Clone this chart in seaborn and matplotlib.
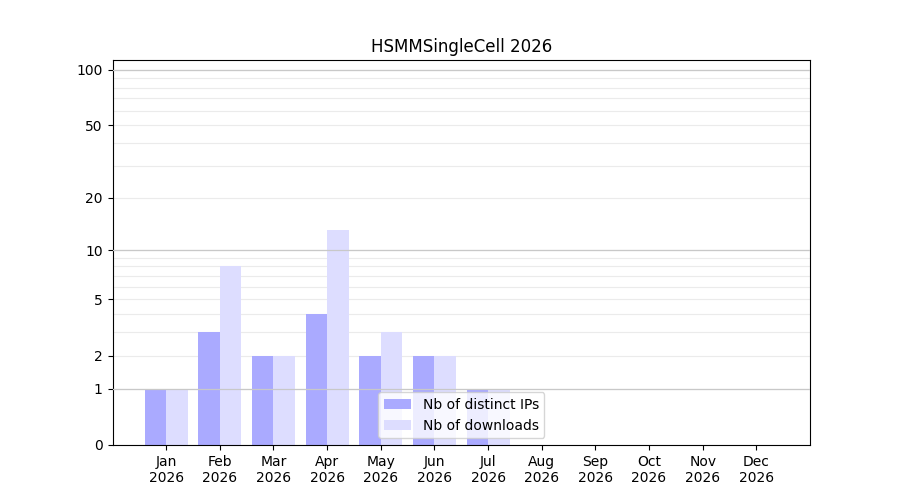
"""
Downloads chart: distinct IPs vs downloads per month, log(1+x) y axis.
"""

import numpy as np
import pandas as pd
import matplotlib
matplotlib.use('Agg')
import matplotlib.pyplot as plt
import seaborn as sns

# Data
months = ['Jan', 'Feb', 'Mar', 'Apr', 'May', 'Jun',
          'Jul', 'Aug', 'Sep', 'Oct', 'Nov', 'Dec']
year = 2026
nb_ips = [1, 3, 2, 4, 2, 2, 1, 0, 0, 0, 0, 0]
nb_downloads = [1, 8, 2, 13, 3, 2, 1, 0, 0, 0, 0, 0]
ytick_values = [0, 1, 2, 5, 10, 20, 50, 100]
minor_values = [3, 4, 6, 7, 8, 9, 30, 40, 60, 70, 80, 90]
strong_grid = [1, 10, 100]

label_ips = 'Nb of distinct IPs'
label_dl = 'Nb of downloads'

df = pd.DataFrame({
    'month': months * 2,
    'value': nb_ips + nb_downloads,
    'series': [label_ips] * len(months) + [label_dl] * len(months),
})

fig, ax = plt.subplots(figsize=(9, 5), dpi=100)

# Barres (hue = série)
sns.barplot(
    data=df, x='month', y='value', hue='series',
    palette={label_ips: '#aaaaff', label_dl: '#ddddff'},
    width=0.8, saturation=1, errorbar=None, ax=ax, zorder=2,
)

# Échelle log(1+x)
ax.set_yscale('function', functions=(np.log1p, np.expm1))
ax.set_ylim(0, 113)
ax.set_xlim(-1, 12)

ax.set_yticks(ytick_values)
ax.set_yticklabels([str(v) for v in ytick_values])
ax.set_yticks(minor_values, minor=True)
ax.tick_params(axis='y', which='minor', length=0)

# Grille légère + lignes plus marquées à 1, 10, 100
ax.grid(True, axis='y', which='both', color='#ebebeb', linewidth=0.8, zorder=0)
for v in strong_grid:
    ax.axhline(v, color='#c8c8c8', linewidth=0.9, zorder=3)
ax.set_axisbelow(True)

ax.set_xticks(range(len(months)))
ax.set_xticklabels([f'{m}\n{year}' for m in months])
ax.set_xlabel('')
ax.set_ylabel('')
ax.set_title(f'HSMMSingleCell {year}')

ax.legend(loc='lower center')

fig.savefig('out.png')
